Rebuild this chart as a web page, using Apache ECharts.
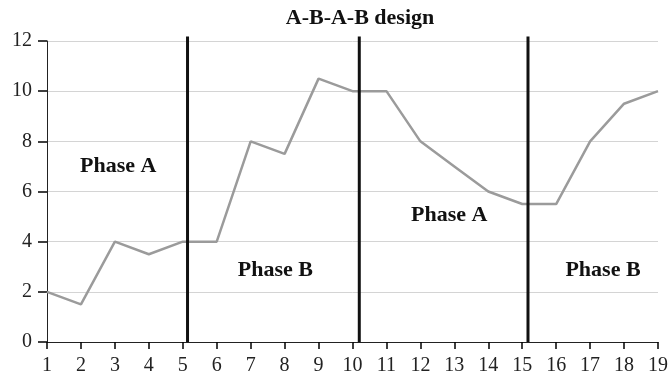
<!DOCTYPE html>
<html>
<head>
<meta charset="utf-8">
<script src="https://cdn.jsdelivr.net/npm/echarts@6/dist/echarts.min.js"></script>
<style>
  html, body { margin: 0; padding: 0; background: #fff; }
  #chart { width: 671px; height: 377px; }
</style>
</head>
<body>
<div id="chart"></div>
<script>
// sessions 1..19 and the measured behaviour
var sessions = [1, 2, 3, 4, 5, 6, 7, 8, 9, 10, 11, 12, 13, 14, 15, 16, 17, 18, 19];
var values = [2, 1.5, 4, 3.5, 4, 4, 8, 7.5, 10.5, 10, 10, 8, 7, 6, 5.5, 5.5, 8, 9.5, 10];
// phase change lines (session position)
var phaseChanges = [5.14, 10.2, 15.17];
// phase labels: [x, y, text]
var phaseLabels = [
    [3.1, 7.0, 'Phase A'],
    [7.73, 2.83, 'Phase B'],
    [12.85, 5.05, 'Phase A'],
    [17.38, 2.83, 'Phase B']
];

var serif = '"Liberation Serif", "DejaVu Serif", serif';
var chart = echarts.init(document.getElementById('chart'));

var series = [
    {
        name: 'data',
        type: 'line',
        data: sessions.map(function (s, i) { return [s, values[i]]; }),
        showSymbol: false,
        symbol: 'none',
        lineStyle: {color: '#9b9b9b', width: 2.5},
        z: 3
    }
];
//竖线
phaseChanges.forEach(function (x) {
    series.push({
        type: 'line',
        data: [[x, 0], [x, 12.18]],
        symbol: 'none',
        clip: false,
        lineStyle: {color: '#111', width: 3},
        z: 4
    });
});
//阶段文字
series.push({
    type: 'scatter',
    data: phaseLabels.map(function (p) { return [p[0], p[1], p[2]]; }),
    symbolSize: 1,
    itemStyle: {color: 'rgba(0,0,0,0)'},
    emphasis: {disabled: true},
    label: {
        show: true,
        position: 'top',
        distance: -11,
        formatter: function (p) { return p.data[2]; },
        fontFamily: serif,
        fontWeight: 'bold',
        fontSize: 22,
        color: '#111',
        textBorderWidth: 0,
        opacity: 1
    },
    z: 5
});

var option = {
    backgroundColor: '#fff',
    animation: false,
    title: {
        text: 'A-B-A-B design',
        left: 355,
        textAlign: 'center',
        top: 2,
        textStyle: {fontFamily: serif, fontWeight: 'bold', fontSize: 22, color: '#111'}
    },
    grid: {left: 47, right: 9, top: 41, bottom: 35},
    xAxis: {
        type: 'value',
        min: 1,
        max: 19,
        interval: 1,
        axisLine: {show: true, onZero: false, lineStyle: {color: '#222', width: 1}},
        axisTick: {show: true, length: 7, lineStyle: {color: '#000', width: 1.5}},
        axisLabel: {fontFamily: serif, fontSize: 20, color: '#222', margin: 14},
        splitLine: {show: false}
    },
    yAxis: {
        type: 'value',
        min: 0,
        max: 12,
        interval: 2,
        axisLine: {show: true, onZero: false, lineStyle: {color: '#222', width: 1}},
        axisTick: {show: true, length: 9, lineStyle: {color: '#000', width: 1.5}},
        axisLabel: {fontFamily: serif, fontSize: 20, color: '#222', margin: 15},
        splitLine: {show: true, lineStyle: {color: '#d4d4d4', width: 1}}
    },
    series: series
};
chart.setOption(option);
</script>
</body>
</html>
